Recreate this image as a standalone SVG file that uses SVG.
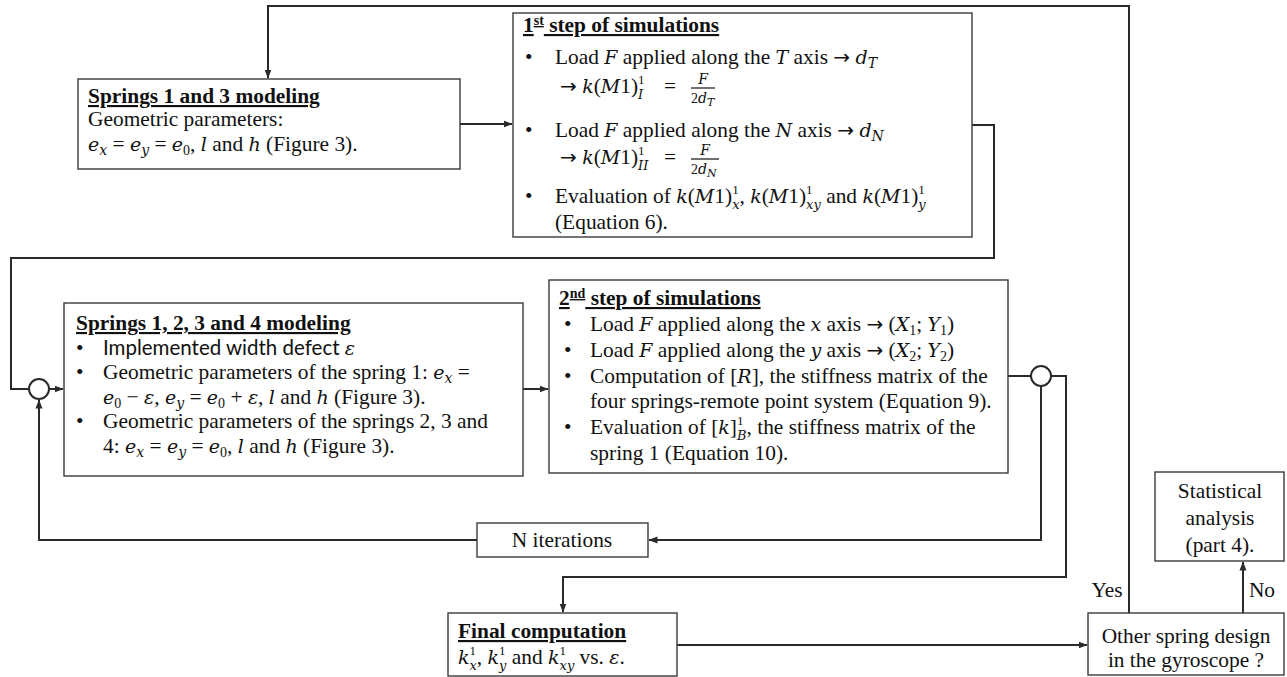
<svg xmlns="http://www.w3.org/2000/svg" width="1287" height="677" viewBox="0 0 1287 677">
<style>
.box{fill:#fff;stroke:#3a3a3a;stroke-width:1.4}
.ln{fill:none;stroke:#2a2a2a;stroke-width:2}
.t{font-family:"Liberation Serif","Times New Roman",serif;font-size:21.4px;fill:#111}
.ttl{font-weight:bold;text-decoration:underline}
.m{font-family:"DejaVu Serif",serif;font-style:italic;font-size:19px}
.ar{font-family:"DejaVu Sans",sans-serif;font-size:20px}
.s{font-family:Lato,"Open Sans",sans-serif;font-size:20.5px}
.sm{font-size:14px}
.ss{font-size:13px}
.xs{font-size:11px}
</style>
<defs>
<marker id="ah" markerWidth="9" markerHeight="8" refX="8.5" refY="4" orient="auto" markerUnits="userSpaceOnUse">
<path d="M0,0.5 L9,4 L0,7.5 z" fill="#2a2a2a"/>
</marker>
</defs>

<g id="connectors">
<path class="ln" d="M1129,613 V6 H268 V78" marker-end="url(#ah)"/>
<path class="ln" d="M460,124 H512" marker-end="url(#ah)"/>
<path class="ln" d="M972,125 H994 V258 H11 V389 H29"/>
<circle cx="39" cy="389" r="10" fill="#fff" stroke="#2a2a2a" stroke-width="2"/>
<path class="ln" d="M49,389 H63" marker-end="url(#ah)"/>
<path class="ln" d="M523,389 H548" marker-end="url(#ah)"/>
<path class="ln" d="M1008,376 H1031"/>
<circle cx="1041" cy="376" r="10" fill="#fff" stroke="#2a2a2a" stroke-width="2"/>
<path class="ln" d="M1041,386 V540 H649" marker-end="url(#ah)"/>
<path class="ln" d="M477,540 H39 V400" marker-end="url(#ah)"/>
<path class="ln" d="M1051,376 H1066 V577 H563 V612" marker-end="url(#ah)"/>
<path class="ln" d="M677,645 H1087" marker-end="url(#ah)"/>
<path class="ln" d="M1243,613 V562" marker-end="url(#ah)"/>
</g>

<g id="springs13">
<rect class="box" x="78" y="79" width="382" height="90"/>
<text class="t ttl" x="88" y="103">Springs 1 and 3 modeling</text>
<text class="t" x="88" y="126">Geometric parameters:</text>
<text class="t" x="88" y="151"><tspan class="m">e</tspan><tspan class="m sm" dy="4">x</tspan><tspan dy="-4"> = </tspan><tspan class="m">e</tspan><tspan class="m sm" dy="4">y</tspan><tspan dy="-4"> = </tspan><tspan class="m">e</tspan><tspan class="sm" dy="4">0</tspan><tspan dy="-4">, </tspan><tspan class="m">l</tspan> and <tspan class="m">h</tspan> (Figure 3).</text>
</g>

<g id="step1">
<rect class="box" x="513" y="13" width="459" height="224"/>
<text class="t ttl" x="523" y="32">1<tspan class="sm" dy="-7">st</tspan><tspan dy="7"> step of simulations</tspan></text>
<text class="t" x="525" y="64">•</text>
<text class="t" x="555" y="64">Load <tspan class="m">F</tspan> applied along the <tspan class="m">T</tspan> axis <tspan class="ar">→</tspan> <tspan class="m">d</tspan><tspan class="m sm" dy="4">T</tspan></text>
<text class="t" x="560" y="93"><tspan class="ar">→</tspan> <tspan class="m">k</tspan>(<tspan class="m">M</tspan>1)<tspan class="ss" dy="-9.5">1</tspan><tspan class="m ss" dx="-6.5" dy="15.5">I</tspan><tspan x="664" dy="-6">=</tspan></text>
<text class="t m sm" x="703" y="84" text-anchor="middle">F</text>
<line x1="691" y1="88" x2="715" y2="88" stroke="#111" stroke-width="1.2"/>
<text class="t sm" x="691" y="103">2<tspan class="m sm">d</tspan><tspan class="m xs" dy="3">T</tspan></text>
<text class="t" x="525" y="137">•</text>
<text class="t" x="555" y="137">Load <tspan class="m">F</tspan> applied along the <tspan class="m">N</tspan> axis <tspan class="ar">→</tspan> <tspan class="m">d</tspan><tspan class="m sm" dy="4">N</tspan></text>
<text class="t" x="560" y="164"><tspan class="ar">→</tspan> <tspan class="m">k</tspan>(<tspan class="m">M</tspan>1)<tspan class="ss" dy="-9.5">1</tspan><tspan class="m ss" dx="-6.5" dy="15.5">II</tspan><tspan x="664" dy="-6">=</tspan></text>
<text class="t m sm" x="705" y="155" text-anchor="middle">F</text>
<line x1="691" y1="159" x2="719" y2="159" stroke="#111" stroke-width="1.2"/>
<text class="t sm" x="691" y="174">2<tspan class="m sm">d</tspan><tspan class="m xs" dy="3">N</tspan></text>
<text class="t" x="525" y="203">•</text>
<text class="t" x="555" y="203">Evaluation of <tspan class="m">k</tspan>(<tspan class="m">M</tspan>1)<tspan class="ss" dy="-9.5">1</tspan><tspan class="m ss" dx="-6.5" dy="15.5">x</tspan><tspan dy="-6">, </tspan><tspan class="m">k</tspan>(<tspan class="m">M</tspan>1)<tspan class="ss" dy="-9.5">1</tspan><tspan class="m ss" dx="-6.5" dy="15.5">xy</tspan><tspan dy="-6"> and </tspan><tspan class="m">k</tspan>(<tspan class="m">M</tspan>1)<tspan class="ss" dy="-9.5">1</tspan><tspan class="m ss" dx="-6.5" dy="15.5">y</tspan></text>
<text class="t" x="555" y="229">(Equation 6).</text>
</g>

<g id="springs1234">
<rect class="box" x="64" y="303" width="459" height="173"/>
<text class="t ttl" x="76" y="330">Springs 1, 2, 3 and 4 modeling</text>
<text class="t" x="76" y="355">•</text>
<text class="t" x="103" y="355"><tspan class="s">Implemented width defect </tspan><tspan class="m">ε</tspan></text>
<text class="t" x="76" y="379">•</text>
<text class="t" x="103" y="379">Geometric parameters of the spring 1: <tspan class="m">e</tspan><tspan class="m sm" dy="4">x</tspan><tspan dy="-4"> =</tspan></text>
<text class="t" x="103" y="404"><tspan class="m">e</tspan><tspan class="sm" dy="4">0</tspan><tspan dy="-4"> − </tspan><tspan class="m">ε</tspan>, <tspan class="m">e</tspan><tspan class="m sm" dy="4">y</tspan><tspan dy="-4"> = </tspan><tspan class="m">e</tspan><tspan class="sm" dy="4">0</tspan><tspan dy="-4"> + </tspan><tspan class="m">ε</tspan>, <tspan class="m">l</tspan> and <tspan class="m">h</tspan> (Figure 3).</text>
<text class="t" x="76" y="428">•</text>
<text class="t" x="103" y="428">Geometric parameters of the springs 2, 3 and</text>
<text class="t" x="103" y="453">4: <tspan class="m">e</tspan><tspan class="m sm" dy="4">x</tspan><tspan dy="-4"> = </tspan><tspan class="m">e</tspan><tspan class="m sm" dy="4">y</tspan><tspan dy="-4"> = </tspan><tspan class="m">e</tspan><tspan class="sm" dy="4">0</tspan><tspan dy="-4">, </tspan><tspan class="m">l</tspan> and <tspan class="m">h</tspan> (Figure 3).</text>
</g>

<g id="step2">
<rect class="box" x="549" y="280" width="459" height="193"/>
<text class="t ttl" x="559" y="305">2<tspan class="sm" dy="-7">nd</tspan><tspan dy="7"> step of simulations</tspan></text>
<text class="t" x="564" y="331">•</text>
<text class="t" x="590" y="331">Load <tspan class="m">F</tspan> applied along the <tspan class="m">x</tspan> axis <tspan class="ar">→</tspan> (<tspan class="m">X</tspan><tspan class="sm" dy="4">1</tspan><tspan dy="-4">; </tspan><tspan class="m">Y</tspan><tspan class="sm" dy="4">1</tspan><tspan dy="-4">)</tspan></text>
<text class="t" x="564" y="357">•</text>
<text class="t" x="590" y="357">Load <tspan class="m">F</tspan> applied along the <tspan class="m">y</tspan> axis <tspan class="ar">→</tspan> (<tspan class="m">X</tspan><tspan class="sm" dy="4">2</tspan><tspan dy="-4">; </tspan><tspan class="m">Y</tspan><tspan class="sm" dy="4">2</tspan><tspan dy="-4">)</tspan></text>
<text class="t" x="564" y="383">•</text>
<text class="t" x="590" y="383">Computation of [<tspan class="m">R</tspan>], the stiffness matrix of the</text>
<text class="t" x="590" y="408">four springs-remote point system (Equation 9).</text>
<text class="t" x="564" y="434">•</text>
<text class="t" x="590" y="434">Evaluation of [<tspan class="m">k</tspan>]<tspan class="ss" dy="-9.5">1</tspan><tspan class="m ss" dx="-6.5" dy="15.5">B</tspan><tspan dy="-6">, the stiffness matrix of the</tspan></text>
<text class="t" x="590" y="460">spring 1 (Equation 10).</text>
</g>

<g id="niter">
<rect class="box" x="477" y="523" width="171" height="34"/>
<text class="t" x="562" y="547" text-anchor="middle">N iterations</text>
</g>

<g id="final">
<rect class="box" x="448" y="613" width="229" height="63"/>
<text class="t ttl" x="458" y="638">Final computation</text>
<text class="t" x="458" y="664"><tspan class="m">k</tspan><tspan class="ss" dy="-9.5">1</tspan><tspan class="m ss" dx="-6.5" dy="15.5">x</tspan><tspan dy="-6">, </tspan><tspan class="m">k</tspan><tspan class="ss" dy="-9.5">1</tspan><tspan class="m ss" dx="-6.5" dy="15.5">y</tspan><tspan dy="-6"> and </tspan><tspan class="m">k</tspan><tspan class="ss" dy="-9.5">1</tspan><tspan class="m ss" dx="-6.5" dy="15.5">xy</tspan><tspan dy="-6"> vs. </tspan><tspan class="m">ε</tspan>.</text>
</g>

<g id="decision">
<rect class="box" x="1088" y="613" width="196" height="62"/>
<text class="t" x="1186" y="643" text-anchor="middle">Other spring design</text>
<text class="t" x="1186" y="667" text-anchor="middle">in the gyroscope ?</text>
</g>

<g id="stats">
<rect class="box" x="1155" y="472" width="129" height="89"/>
<text class="t" x="1220" y="498" text-anchor="middle">Statistical</text>
<text class="t" x="1220" y="525" text-anchor="middle">analysis</text>
<text class="t" x="1220" y="552" text-anchor="middle">(part 4).</text>
</g>

<g id="labels">
<text class="t" x="1107" y="597" text-anchor="middle">Yes</text>
<text class="t" x="1262" y="597" text-anchor="middle">No</text>
</g>
</svg>
